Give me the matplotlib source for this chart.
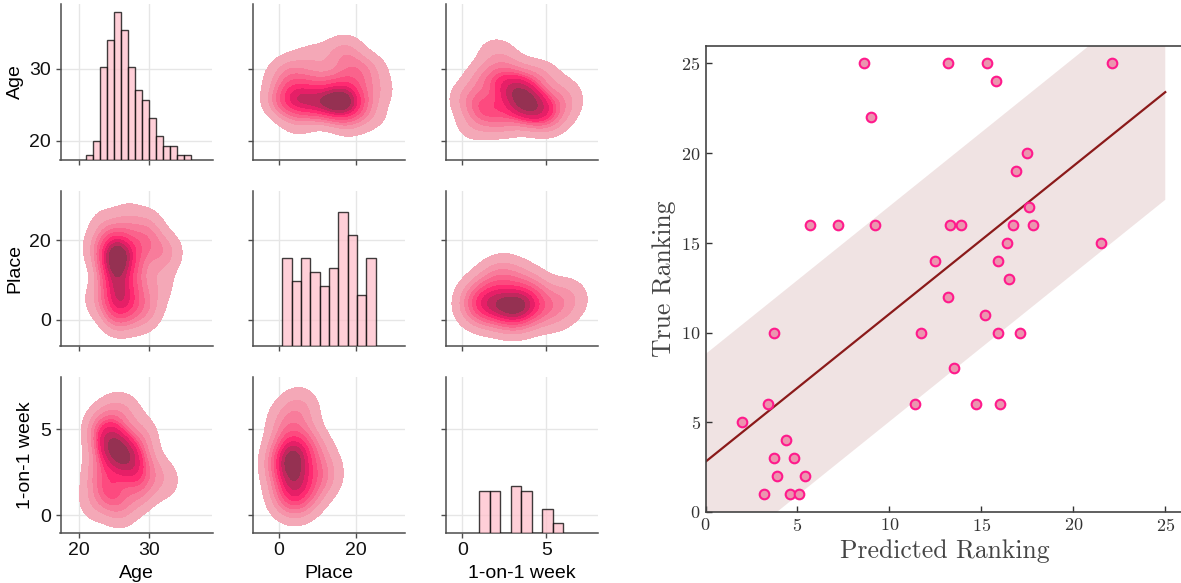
import numpy as np
import matplotlib
matplotlib.use("Agg")
import matplotlib.pyplot as plt

# --- datos: histogramas de la diagonal ---
age_edges = [21, 22, 23, 24, 25, 26, 27, 28, 29, 30, 31, 32, 33, 34, 35, 36]
age_counts = [1, 4, 20, 26, 32, 28, 20, 15, 13, 9, 5, 3, 3, 1, 1]
place_edges = [1, 3.4, 5.8, 8.2, 10.6, 13, 15.4, 17.8, 20.2, 22.6, 25]
place_counts = [19, 14, 19, 16, 13, 17, 29, 24, 11, 19]
week_edges = [1.0, 1.625, 2.25, 2.875, 3.5, 4.125, 4.75, 5.375, 6.0]
week_counts = [9, 9, 0, 10, 9, 0, 5, 2]

# --- datos: puntos ponderados (estimados) para las densidades conjuntas ---
ap_age = [25.2, 25.2, 25.2, 25.3, 25.5, 25.5, 27.5, 27.5, 28, 29.5, 30, 31.5, 33, 31.5,
          22.5, 22.5, 23.5, 27, 30, 28.5]
ap_place = [16, 19, 12.5, 8, 4, 1, 17, 5, 11, 20, 3, 17, 17, 9, 5, 18, 24, 25, 24, 0]
ap_w = [6, 3, 4, 4, 3, 2, 3, 3, 2, 2, 1.5, 1.5, 1.0, 1.2, 1, 1.2, 1, 1.4, 1.0, 0.8]

aw_age = [24.5, 26, 27.5, 24.5, 23, 23, 25, 28.5, 30, 29, 32.5, 22, 26, 27]
aw_week = [4.2, 3.6, 3.0, 1.4, 2.5, 5, 5.8, 1.5, 2.5, 4.5, 2, 0.8, 0.5, 6]
aw_w = [5, 5, 4, 3, 2, 2, 1.5, 2, 1.5, 1.5, 0.9, 1, 1.5, 0.8]

pw_place = [3.5, 3.5, 3.5, 3, 2, 5.5, 8, 9, 11, 1, 6, 12, 5.5]
pw_week = [3.2, 2.0, 4.3, 1.0, 5.5, 6, 4, 2, 3, 3, 1, 2.3, 6.5]
pw_w = [6, 4, 3, 3, 1.5, 1.2, 2, 2, 1, 2, 2, 1.0, 0.8]

# colores de las bandas de densidad (de fuera hacia dentro)
kde_colors = ["#f4a8b7", "#f693a9", "#f87c9b", "#fa638c", "#fd4a7f", "#ff2a71",
              "#e61f67", "#c0285d", "#953152"]

# --- datos: ranking ---
pred = [8.6, 13.2, 15.3, 15.8, 22.1, 9.0, 17.5, 16.9, 17.6, 5.7, 7.2, 9.2, 13.3, 13.9,
        16.7, 17.8, 16.4, 21.5, 12.5, 15.9, 16.5, 13.2, 15.2, 3.7, 11.7, 15.9, 17.1,
        13.5, 3.4, 11.4, 14.7, 16.0, 2.0, 4.4, 3.7, 4.8, 3.9, 5.4, 3.2, 4.6, 5.1]
true = [25, 25, 25, 24, 25, 22, 20, 19, 17, 16, 16, 16, 16, 16, 16, 16, 15, 15, 14, 14,
        13, 12, 11, 10, 10, 10, 10, 8, 6, 6, 6, 6, 5, 4, 3, 3, 2, 2, 1, 1, 1]
fit_x = [0, 25]
fit_y = [2.8, 23.4]
band = 6.0

names = ["Age", "Place", "1-on-1 week"]
lims = [(17.4, 39.0), (-6.6, 32.6), (-1.0, 8.05)]
ticks = [[20, 30], [0, 20], [0, 5]]
hists = [(age_edges, age_counts), (place_edges, place_counts), (week_edges, week_counts)]
bws = [1.6, 3.5, 0.85]
pairs = {(0, 1): (ap_age, ap_place, ap_w),
         (0, 2): (aw_age, aw_week, aw_w),
         (1, 2): (pw_place, pw_week, pw_w)}


def density(px, py, pw, bx, by, xlim, ylim, n=200):
    xs = np.linspace(xlim[0], xlim[1], n)
    ys = np.linspace(ylim[0], ylim[1], n)
    X, Y = np.meshgrid(xs, ys)
    Z = np.zeros_like(X)
    for x, y, w in zip(px, py, pw):
        Z += w * np.exp(-0.5 * ((X - x) / bx) ** 2 - 0.5 * ((Y - y) / by) ** 2)
    return X, Y, Z


def iso_levels(Z, props):
    # igual que seaborn: niveles de isoproporción de la masa
    vals = np.sort(Z.ravel())[::-1]
    cum = np.cumsum(vals) / vals.sum()
    idx = np.searchsorted(cum, 1 - np.asarray(props))
    return np.take(vals, idx, mode="clip")


fig = plt.figure(figsize=(11.81, 5.83), dpi=100)
W, H = 1181, 583
col_left = [60.5, 253, 445.5]
row_top = [4, 190.5, 377]
aw_px, ah_px = 152, 155.5
sans = "Liberation Sans"
spine_c = "#4d4d4d"

for i in range(3):        # fila -> variable en y
    for j in range(3):    # columna -> variable en x
        ax = fig.add_axes([col_left[j] / W, (H - row_top[i] - ah_px) / H, aw_px / W, ah_px / H])
        ax.set_xlim(lims[j])
        ax.set_ylim(lims[i])
        ax.set_xticks(ticks[j])
        ax.set_yticks(ticks[i])
        ax.grid(True, color="#e6e6e6", linewidth=1)
        ax.set_axisbelow(True)
        for s in ["top", "right"]:
            ax.spines[s].set_visible(False)
        for s in ["left", "bottom"]:
            ax.spines[s].set_color(spine_c)
            ax.spines[s].set_linewidth(1.1)
        ax.tick_params(direction="out", length=3.5, width=1, color=spine_c,
                       labelsize=14, labelcolor="#111111")
        if i < 2:
            ax.tick_params(labelbottom=False)
        else:
            ax.set_xlabel(names[j], fontsize=14, fontfamily=sans)
        if j > 0:
            ax.tick_params(labelleft=False)
        else:
            ax.set_ylabel(names[i], fontsize=14, fontfamily=sans)
        for lab in ax.get_xticklabels() + ax.get_yticklabels():
            lab.set_fontfamily(sans)

        if i == j:
            edges, counts = hists[i]
            tw = ax.twinx()
            tw.set_ylim(0, 33.7)
            tw.axis("off")
            tw.bar(edges[:-1], counts, width=np.diff(edges), align="edge",
                   color="pink", alpha=0.75, edgecolor="black", linewidth=1)
        else:
            a, b = (j, i) if j < i else (i, j)
            px, py, pw = pairs[(a, b)]
            if j < i:
                xs_, ys_ = px, py
            else:
                xs_, ys_ = py, px
            X, Y, Z = density(xs_, ys_, pw, bws[j], bws[i], lims[j], lims[i])
            levels = iso_levels(Z, np.linspace(0.05, 1, 10))
            ax.contourf(X, Y, Z, levels=levels, colors=kde_colors)

# --- panel derecho: ranking predicho vs real ---
cm = "cmr10"
plt.rcParams["axes.formatter.use_mathtext"] = True
ax = fig.add_axes([705.5 / W, 71 / H, 26 * 18.39 / W, 466.5 / H])
fx = np.array(fit_x, dtype=float)
fy = np.array(fit_y, dtype=float)
ax.fill_between(fx, fy - band, fy + band, color="#8b1a1a", alpha=0.12, linewidth=0)
ax.plot(fx, fy, color="#8b1a1a", linewidth=1.6)
ax.scatter(pred, true, s=48, facecolor="#eb95af", edgecolor="#ff1a8c", linewidth=1.5, zorder=3)
ax.set_xlim(0, 26)
ax.set_ylim(0, 26)
ax.set_xticks([0, 5, 10, 15, 20, 25])
ax.set_yticks([0, 5, 10, 15, 20, 25])
ax.tick_params(direction="in", length=4, width=1, color="#333333", labelsize=13, labelcolor="#333333")
for lab in ax.get_xticklabels() + ax.get_yticklabels():
    lab.set_fontfamily(cm)
for s in ax.spines.values():
    s.set_color("#444444")
    s.set_linewidth(1.2)
ax.set_xlabel("Predicted Ranking", fontsize=18.5, fontfamily=cm, color="#444444")
ax.set_ylabel("True Ranking", fontsize=18.5, fontfamily=cm, color="#444444")

fig.savefig("out.png", dpi=100)
